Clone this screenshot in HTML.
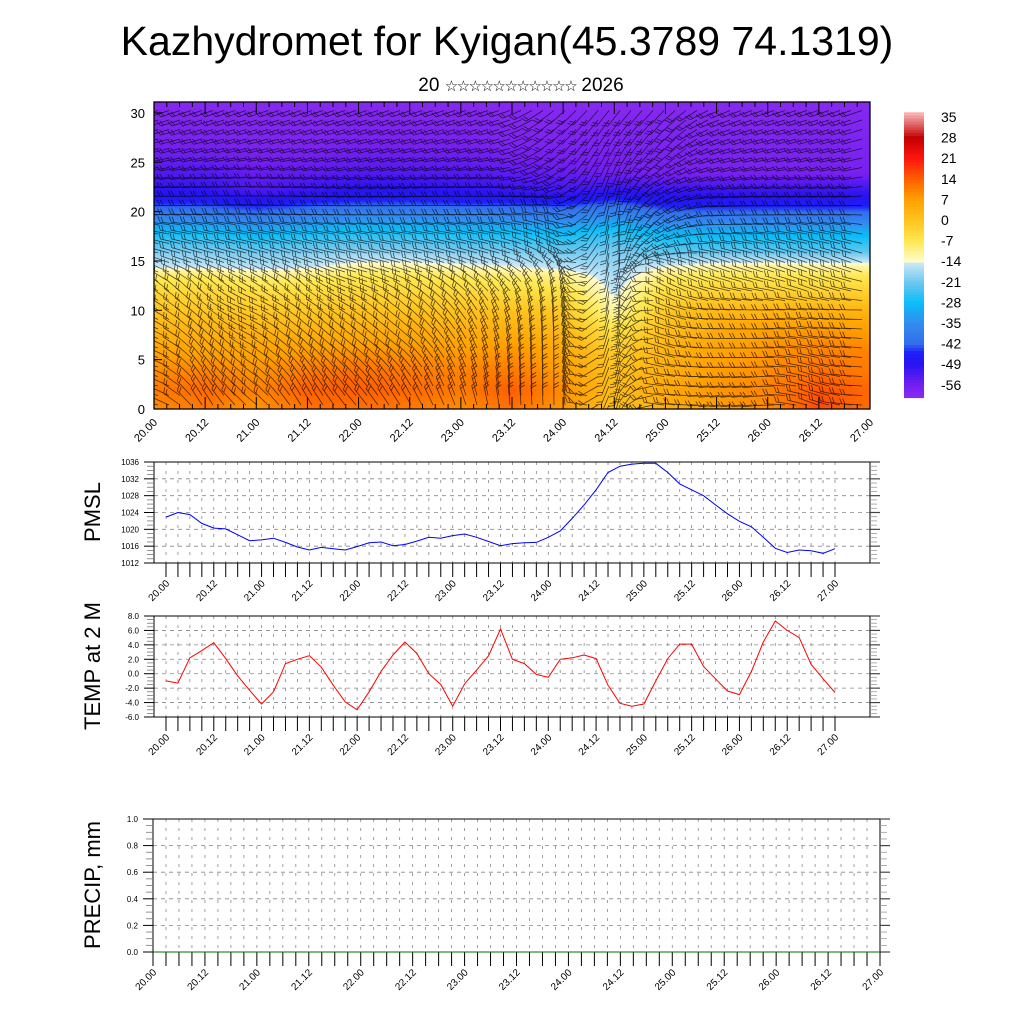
<!DOCTYPE html>
<html><head><meta charset="utf-8">
<style>
html,body{margin:0;padding:0;background:#fff;}
#wrap{position:relative;width:1024px;height:1024px;overflow:hidden;font-family:"Liberation Sans",sans-serif;}
#field{position:absolute;left:154px;top:102px;}
#ov{position:absolute;left:0;top:0;}
</style></head>
<body>
<div id="wrap">
<canvas id="field" width="716" height="307"></canvas>
<svg id="ov" width="1024" height="1024" xmlns="http://www.w3.org/2000/svg">
<text x="507" y="55" font-size="41" text-anchor="middle" font-family="Liberation Sans, sans-serif">Kazhydromet for Kyigan(45.3789 74.1319)</text>
<text x="521" y="91" font-size="19" text-anchor="middle" font-family="Liberation Sans, DejaVu Sans, sans-serif">20 <tspan font-size="15" letter-spacing="-1.5">☆☆☆☆☆☆☆☆☆☆☆</tspan> 2026</text>
<g id="g"></g>
</svg>
</div>
<script>
// ---------- data ----------
const pmslValues=[1022.9,1024.0,1023.5,1021.4,1020.3,1020.1,1018.7,1017.3,1017.5,1017.9,1016.9,1015.8,1015.1,1015.7,1015.4,1015.1,1015.9,1016.8,1017.0,1016.1,1016.4,1017.2,1018.1,1017.9,1018.5,1018.9,1018.1,1017.1,1016.1,1016.6,1016.8,1016.9,1018.1,1019.6,1022.6,1025.8,1029.4,1033.5,1035.0,1035.5,1035.7,1035.7,1033.5,1030.8,1029.4,1028.0,1025.8,1023.7,1021.9,1020.6,1018.1,1015.5,1014.5,1015.1,1014.9,1014.3,1015.4];
const tempValues=[-1.0,-1.3,2.2,3.2,4.3,2.1,-0.3,-2.3,-4.2,-2.5,1.4,2.0,2.5,0.9,-1.6,-3.9,-5.0,-2.5,0.3,2.6,4.4,2.8,0.0,-1.5,-4.5,-1.4,0.5,2.5,6.2,2.0,1.4,-0.1,-0.5,2.0,2.2,2.6,2.1,-1.6,-4.1,-4.5,-4.2,-1.0,2.1,4.1,4.1,1.0,-0.7,-2.4,-2.9,0.3,4.4,7.3,6.0,5.0,1.3,-0.7,-2.6];
const precipValues=[0,0,0,0,0,0,0,0,0,0,0,0,0,0,0,0,0,0,0,0,0,0,0,0,0,0,0,0,0,0,0,0,0,0,0,0,0,0,0,0,0,0,0,0,0,0,0,0,0,0,0,0,0,0,0,0,0];
const timeLabels=["20.00","20.12","21.00","21.12","22.00","22.12","23.00","23.12","24.00","24.12","25.00","25.12","26.00","26.12","27.00"];
const pmslTicks=[1012,1016,1020,1024,1028,1032,1036];
const tempTicks=[-6,-4,-2,0,2,4,6,8];
const precipTicks=[0,0.2,0.4,0.6,0.8,1.0];
const heightTicks=[0,5,10,15,20,25,30];
const cbarLabels=[35,28,21,14,7,0,-7,-14,-21,-28,-35,-42,-49,-56];
const fieldHeights=[0,2,4,6,8,10,12,13.5,14.5,16,18,20,21,22,24,27,31.5];
const fieldTemp=[
[9,11,8,12,12,11,9,12,8,0,4,7,9,16,12],
[11,13,10,14,14,13,11,14,9,1,5,8,10,15,13],
[9,10,8,11,12,11,10,11,7,0,4,7,9,12,11],
[6,6,6,7,8,8,7,8,5,-2,3,6,8,10,10],
[3,3,3,3,4,4,4,4,2,-6,1,5,7,8,7],
[0,-1,-1,-1,0,0,0,0,-1,-12,-1,2,3,3,3],
[-4,-4,-5,-5,-4,-4,-4,-5,-6,-15,-5,-3,-3,-3,-3],
[-8,-8,-10,-9,-7,-7,-8,-9,-10,-17,-9,-7,-7,-7,-7],
[-15,-15,-16,-15,-12,-12,-13,-14,-16,-18,-14,-12,-11,-12,-12],
[-20,-20,-21,-20,-19,-19,-20,-20,-21,-20,-22,-22,-22,-22,-22],
[-28,-28,-30,-28,-27,-27,-28,-28,-29,-26,-30,-30,-30,-30,-30],
[-40,-40,-42,-40,-38,-38,-39,-39,-40,-37,-42,-42,-42,-42,-42],
[-45,-45,-47,-45,-44,-44,-45,-45,-46,-43,-47,-47,-47,-47,-47],
[-49,-49,-52,-50,-48,-48,-49,-50,-51,-49,-50,-50,-50,-50,-50],
[-53,-53,-55,-54,-53,-53,-53,-54,-55,-56,-57,-57,-57,-57,-57],
[-57,-57,-58,-58,-57,-57,-57,-58,-58,-58,-58,-58,-58,-58,-58],
[-60,-60,-60,-60,-60,-60,-60,-60,-60,-60,-60,-60,-60,-60,-60]];
const windAngle=[
[170,120,140,120,130,120,110,95,90,265,170,185,185,160,180],
[170,120,140,120,130,120,110,95,90,265,170,185,185,160,180],
[168,125,145,128,135,130,115,98,90,268,165,182,182,165,178],
[165,130,150,135,140,140,120,100,90,270,160,180,180,170,175],
[158,135,155,140,145,140,125,105,92,272,158,178,180,172,178],
[150,140,160,145,150,140,130,110,95,275,155,175,180,175,180],
[145,135,150,140,160,150,140,130,100,280,150,165,170,160,170],
[155,150,155,150,165,160,150,145,110,275,150,160,165,160,165],
[160,160,160,160,165,165,160,160,140,270,155,160,160,160,160],
[165,165,165,165,168,168,165,165,150,275,200,170,165,165,165],
[170,170,170,170,172,172,170,170,160,270,210,180,175,170,170],
[180,178,175,178,180,180,180,178,170,270,220,185,180,180,180],
[180,180,178,180,182,182,180,180,180,265,215,185,182,182,182],
[182,182,180,182,185,185,182,182,190,260,210,190,185,185,185],
[190,188,185,188,190,190,188,188,210,255,210,195,190,190,190],
[195,195,195,195,195,195,195,195,225,240,230,200,195,195,195],
[200,200,200,200,200,200,200,200,220,230,225,205,200,200,200]];

// ---------- helpers ----------
const NS="http://www.w3.org/2000/svg";
const G=document.getElementById('g');
function mk(tag,attrs,parent){const e=document.createElementNS(NS,tag);for(const k in attrs)e.setAttribute(k,attrs[k]);(parent||G).appendChild(e);return e;}

const stops=[[-63,[150,50,240]],[-56,[115,30,240]],[-49,[40,20,240]],[-45,[30,30,250]],[-42,[50,110,235]],[-35,[50,140,240]],[-28,[10,190,248]],[-21,[110,200,240]],[-14.01,[210,236,248]],[-14,[255,252,205]],[-7,[255,232,80]],[0,[255,195,30]],[7,[255,160,0]],[14,[255,95,0]],[21,[255,20,15]],[28,[195,0,0]],[36,[248,175,175]]];
function colorOf(v){
  if(v<=stops[0][0])return stops[0][1];
  for(let i=1;i<stops.length;i++){if(v<=stops[i][0]){const a=stops[i-1],b=stops[i];const t=(v-a[0])/(b[0]-a[0]);return a[1].map((c,j)=>Math.round(c+(b[1][j]-c)*t));}}
  return stops[stops.length-1][1];
}
const TX0=154,TX1=870,TY0=409,TYperUnit=9.87;
function topX(hours){return TX0+hours/168*(TX1-TX0);}
function topY(h){return TY0-h*TYperUnit;}
function sampleGrid(grid,hours,h){
  const cf=Math.max(0,Math.min(13.999,hours/12));const c=Math.floor(cf),tc=cf-c;
  let r=0;while(r<fieldHeights.length-2&&h>fieldHeights[r+1])r++;
  let tr=(h-fieldHeights[r])/(fieldHeights[r+1]-fieldHeights[r]);tr=Math.max(0,Math.min(1,tr));
  const a=grid[r][c]*(1-tc)+grid[r][c+1]*tc;const b=grid[r+1][c]*(1-tc)+grid[r+1][c+1]*tc;
  return a*(1-tr)+b*tr;
}
(function(){
  const cv=document.getElementById('field');const ctx=cv.getContext('2d');
  const W=cv.width,H=cv.height;const img=ctx.createImageData(W,H);
  for(let py=0;py<H;py++){const h=(TY0-(102+py))/TYperUnit;
    for(let px=0;px<W;px++){const hrs=px/(TX1-TX0)*168;const v=sampleGrid(fieldTemp,hrs,h);const c=colorOf(v);const k=(py*W+px)*4;img.data[k]=c[0];img.data[k+1]=c[1];img.data[k+2]=c[2];img.data[k+3]=255;}}
  ctx.putImageData(img,0,0);
})();
(function(){
  let d="";
  for(let y=topY(0)-4;y>102;y-=9.5){const h=(TY0-y)/TYperUnit;
    for(let x=TX0+4;x<TX1;x+=11){const hrs=(x-TX0)/(TX1-TX0)*168;const a=sampleGrid(windAngle,hrs,h)*Math.PI/180;
      const L=20,dx=Math.cos(a),dy=-Math.sin(a);const ex=x+dx*L,ey=y+dy*L;
      d+=`M${x.toFixed(1)} ${y.toFixed(1)}L${ex.toFixed(1)} ${ey.toFixed(1)}`;
      const fa=a-1.1;for(let k=0;k<2;k++){const bx=ex-dx*3*k,by=ey-dy*3*k;d+=`M${bx.toFixed(1)} ${by.toFixed(1)}l${(Math.cos(fa)*6).toFixed(1)} ${(-Math.sin(fa)*6).toFixed(1)}`;}
    }}
  const cp=mk('clipPath',{id:'topclip'});mk('rect',{x:TX0,y:102,width:TX1-TX0,height:307},cp);
  const p=mk('path',{d:d,fill:'none',stroke:'#000','stroke-opacity':0.7,'stroke-width':0.75,'clip-path':'url(#topclip)'});
  
  
})();
(function(){
  const f=mk('rect',{x:TX0,y:102,width:TX1-TX0,height:307,fill:'none',stroke:'#000','stroke-width':1.3});
  
  
  heightTicks.forEach(v=>{const y=topY(v);mk('line',{x1:TX0,y1:y,x2:TX0+8,y2:y,stroke:'#000'});
    const t=mk('text',{x:145,y:y+5,'font-size':13,'text-anchor':'end'});t.textContent=v;
    
    });
  for(let i=0;i<=56;i++){const x=topX(i*3);mk('line',{x1:x,y1:TY0,x2:x,y2:TY0-(i%4==0?12:5),stroke:'#000'});mk('line',{x1:x,y1:102,x2:x,y2:102+(i%4==0?12:5),stroke:'#000'});}
  timeLabels.forEach((s,i)=>{const x=topX(i*12);const t=mk('text',{x:x+4,y:423,'font-size':11,'text-anchor':'end',transform:`rotate(-45 ${x+4} 423)`});t.textContent=s;
    
    });
})();
(function(){
  const cy=v=>117+(35-v)*(20.6/7);
  for(let v=-60.4;v<36.4;v+=1){const c=colorOf(v+0.5);const r=mk('rect',{x:904,y:cy(v+1),width:20,height:2.96+0.3,fill:`rgb(${c})`});
    
    }
  cbarLabels.forEach(v=>{const t=mk('text',{x:941,y:cy(v)+5,'font-size':14});t.textContent=v;
    
    });
})();
function linePanel(o){
  const {x0,x1,y0,y1,vmin,vmax,ticks,minor,fmt,data,color,dx0,dx1,name,title,titleY}=o;
  const X=i=>dx0+i*(dx1-dx0)/56;const Y=v=>y1-(v-vmin)/(vmax-vmin)*(y1-y0);
  ticks.forEach(v=>{const y=Y(v);if(v>vmin&&v<vmax)mk('line',{x1:x0,y1:y,x2:x1,y2:y,stroke:'#888','stroke-dasharray':'4 4','stroke-width':0.8});});
  for(let i=0;i<=56;i++){const x=X(i);if(x>x0+1&&x<x1-1)mk('line',{x1:x,y1:y0,x2:x,y2:y1,stroke:'#888','stroke-dasharray':'3 6','stroke-width':0.8});}
  const f=mk('rect',{x:x0,y:y0,width:x1-x0,height:y1-y0,fill:'none',stroke:'#000','stroke-width':1});
  
  
  for(let v=vmin;v<=vmax+1e-9;v+=minor){const y=Y(v);const maj=ticks.some(t=>Math.abs(t-v)<1e-6);
    mk('line',{x1:x0,y1:y,x2:x0-(maj?10:7),y2:y,stroke:maj?'#000':'#777','stroke-width':maj?1:0.8});
    mk('line',{x1:x1,y1:y,x2:x1+(maj?10:7),y2:y,stroke:maj?'#444':'#999','stroke-width':maj?1.2:0.8});}
  ticks.forEach(v=>{const t=mk('text',{x:x0-15,y:Y(v)+3,'font-size':8,'text-anchor':'end'});t.textContent=fmt(v);
    
    });
  for(let i=0;i<=56;i++){const x=X(i);mk('line',{x1:x,y1:y1,x2:x,y2:y1+14,stroke:'#000','stroke-width':1});}
  timeLabels.forEach((s,i)=>{const x=X(i*4);const t=mk('text',{x:x+4,y:y1+21,'font-size':10,'text-anchor':'end',transform:`rotate(-45 ${x+4} ${y1+21})`});t.textContent=s;
    
    });
  const pts=data.map((v,i)=>X(i).toFixed(1)+','+Y(v).toFixed(1)).join(' ');
  const pl=mk('polyline',{points:pts,fill:'none',stroke:color,'stroke-width':1});
  
  
  const tt=mk('text',{x:100,y:titleY,'font-size':22,'text-anchor':'middle',transform:`rotate(-90 100 ${titleY})`});tt.textContent=title;
  
  
}
linePanel({x0:154,x1:870,y0:462,y1:563,vmin:1012,vmax:1036,ticks:pmslTicks,minor:1,fmt:v=>v,data:pmslValues,color:'#0000ff',dx0:166,dx1:835,name:'pmsl',title:'PMSL',titleY:512});
linePanel({x0:154,x1:870,y0:616,y1:717,vmin:-6,vmax:8,ticks:tempTicks,minor:0.5,fmt:v=>v.toFixed(1),data:tempValues,color:'#ff0000',dx0:166,dx1:835,name:'temp',title:'TEMP at 2 M',titleY:666});
linePanel({x0:153,x1:880,y0:819,y1:952,vmin:0,vmax:1,ticks:precipTicks,minor:0.05,fmt:v=>v.toFixed(1),data:precipValues,color:'#007000',dx0:153,dx1:880,name:'precip',title:'PRECIP, mm',titleY:885});
</script>
</body></html>
